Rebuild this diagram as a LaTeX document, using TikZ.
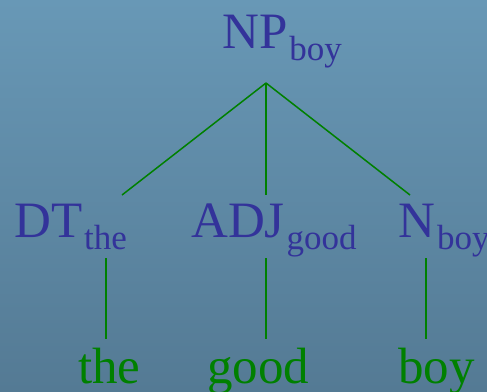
\documentclass[tikz,border=0pt]{standalone}
\usepackage{fontspec}
\setmainfont{Liberation Serif}
\definecolor{catblue}{HTML}{33339A}
\definecolor{arcgreen}{HTML}{008000}
\definecolor{bgtop}{RGB}{104,152,182}
\definecolor{bgbot}{RGB}{84,122,148}
\tikzset{
  cat/.style={anchor=base west, inner sep=0pt, text=catblue,
              font=\fontsize{51bp}{51bp}\selectfont},
  word/.style={anchor=base west, inner sep=0pt, text=arcgreen,
               font=\fontsize{51bp}{51bp}\selectfont},
  arc/.style={draw=arcgreen, line width=1.5bp},
}
% lowered head-word subscript
\newcommand\headword[1]{\kern2bp\raisebox{-12.5bp}{\fontsize{35bp}{35bp}\selectfont #1}}
\begin{document}
\begin{tikzpicture}[x=1bp,y=-1bp]
  \shade[top color=bgtop, bottom color=bgbot] (0,0) rectangle (487,391);
  \useasboundingbox (0,0) rectangle (487,391);

  % category labels
  \node[cat] (np)  at (222,48)  {NP\headword{boy}};
  \node[cat] (dt)  at (14,237)  {DT\headword{the}};
  \node[cat] (adj) at (191,237) {ADJ\headword{good}};
  \node[cat] (n)   at (398,237) {N\headword{boy}};

  % words
  \node[word] (w1) at (78,383)  {the};
  \node[word] (w2) at (207,383) {good};
  \node[word] (w3) at (398,383) {boy};

  % branch end points
  \coordinate (np-foot)  at (266,83);
  \coordinate (dt-top)   at (122,195);
  \coordinate (adj-top)  at (266,195);
  \coordinate (n-top)    at (410,195);
  \coordinate (dt-foot)  at (106,258);
  \coordinate (adj-foot) at (266,258);
  \coordinate (n-foot)   at (426,258);
  \coordinate (w1-top)   at (106,339);
  \coordinate (w2-top)   at (266,339);
  \coordinate (w3-top)   at (426,339);

  \draw[arc] (np-foot) -- (dt-top);
  \draw[arc] (np-foot) -- (adj-top);
  \draw[arc] (np-foot) -- (n-top);
  \draw[arc] (dt-foot) -- (w1-top);
  \draw[arc] (adj-foot) -- (w2-top);
  \draw[arc] (n-foot) -- (w3-top);
\end{tikzpicture}
\end{document}
